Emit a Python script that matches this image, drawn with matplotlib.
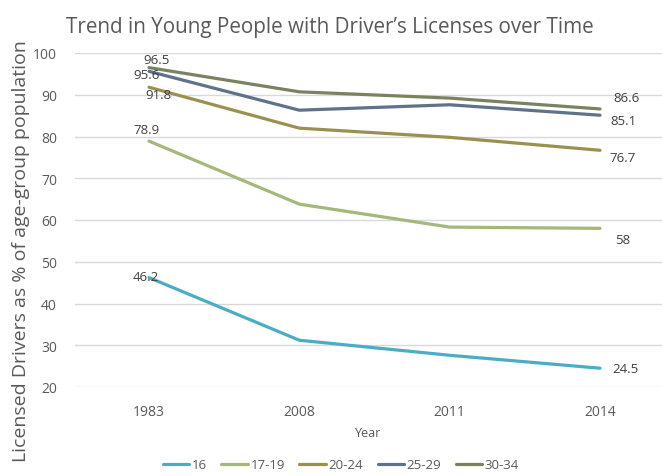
import matplotlib
matplotlib.use('Agg')
import matplotlib.pyplot as plt

matplotlib.rcParams['font.family'] = ['Open Sans', 'DejaVu Sans']

# 数据
years = ['1983', '2008', '2011', '2014']
series_names = ['16', '17-19', '20-24', '25-29', '30-34']
age_16 = [46.2, 31.2, 27.6, 24.5]
age_17_19 = [78.9, 63.8, 58.3, 58]
age_20_24 = [91.8, 82.0, 79.8, 76.7]
age_25_29 = [95.6, 86.3, 87.6, 85.1]
age_30_34 = [96.5, 90.7, 89.2, 86.6]

colors = ['#4BACC6', '#A3B879', '#9A914E', '#5F7289', '#7A8360']
text_color = '#595959'

fig = plt.figure(figsize=(6.62, 4.77), dpi=100)
ax = fig.add_axes([75 / 662, 1 - 388 / 477, 587 / 662, 334 / 477])

x = list(range(len(years)))
all_series = [age_16, age_17_19, age_20_24, age_25_29, age_30_34]
for name, vals, c in zip(series_names, all_series, colors):
    ax.plot(x, vals, color=c, linewidth=2.3, label=name, solid_capstyle='round')

# 数值标签（首尾）
first_offsets = [(-2.6, 1), (-2, 8.4), (6.5, -5), (-2, -2), (5.7, 5.5)]
last_offsets = [(18, 0), (16.5, -8), (16.5, -5), (17, -3.6), (19, 8.3)]
for vals, fo, lo in zip(all_series, first_offsets, last_offsets):
    ax.annotate(f'{vals[0]:g}', (x[0], vals[0]), xytext=fo, textcoords='offset points',
                ha='center', va='center', fontsize=9.5, color='#404040')
    ax.annotate(f'{vals[-1]:g}', (x[-1], vals[-1]), xytext=lo, textcoords='offset points',
                ha='center', va='center', fontsize=9.5, color='#404040')

ax.set_ylim(20, 100)
ax.set_yticks(range(20, 101, 10))
ax.set_xlim(-74 / 150.3, 3 + 62 / 150.3)
ax.set_xticks(x)
ax.set_xticklabels(years)
ax.tick_params(length=0, labelsize=10, colors=text_color, pad=12)
ax.tick_params(axis='y', pad=13)
ax.grid(True, axis='y', color='#D9D9D9', linewidth=1)
ax.set_axisbelow(True)
for s in ax.spines.values():
    s.set_visible(False)

ax.set_xlabel('Year', fontsize=9, color=text_color, labelpad=5)
ax.set_ylabel('Licensed Drivers as % of age-group population', fontsize=14,
              color=text_color)
ax.yaxis.set_label_coords(-0.077, 0.41)

fig.text(0.498, 1 - 27 / 477, 'Trend in Young People with Driver\u2019s Licenses over Time',
         ha='center', va='center', fontsize=14.9, color=text_color)

fig.legend(loc='center', bbox_to_anchor=(0.515, 1 - 466 / 477), ncol=5, frameon=False,
           fontsize=9.5, handlelength=2.0, handletextpad=0.2, columnspacing=1.1,
           labelcolor=text_color)

fig.savefig('out.png', dpi=100, facecolor='white')
